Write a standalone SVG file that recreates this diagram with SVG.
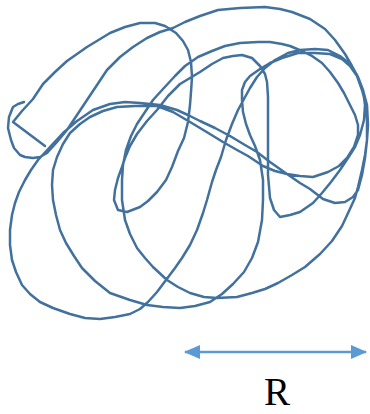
<svg xmlns="http://www.w3.org/2000/svg" width="370" height="414" viewBox="0 0 370 414">
<style>
.coil{fill:none;stroke:#41719C;stroke-width:2.5;stroke-linejoin:round;stroke-linecap:round}
.arr{stroke:#5B9BD5;stroke-width:2.6}
.lbl{font-family:"Liberation Serif","Times New Roman",serif;font-size:39px;fill:#000}
</style>
<defs>
<marker id="ah" viewBox="0 0 16 14" refX="15" refY="7" markerWidth="16" markerHeight="14" markerUnits="userSpaceOnUse" orient="auto-start-reverse">
<path d="M0,0 L16,7 L0,14 z" fill="#5B9BD5"/>
</marker>
</defs>
<path class="coil" d="M45,146 L13,122 L22,111 L33,99 L43,84 L55,72 L67,61 L87,47 L110,33 L125,27 L140,23 L155,23 L165,26 L176,33 L183,41 L188,50 L191,62 L192,77 L191,92 L190,105 L188,122 L184,138 L178,151 L172,167 L166,180 L157,192 L148,201 L140,207 L127,212 L118,210 L114,200 L115,190 L118,178 L122,167 L125,158 L130,146 L137,134 L147,121 L157,110 L168,96 L180,84 L190,78 L200,72 L212,64 L223,58 L233,56 L242,55 L252,58 L260,66 L265,74 L267,82 L268,97 L268,115 L268,140 L268,160 L268,175 L270,198 L274,210 L280,217 L290,215 L300,212 L313,203 L322,193 L331,182 L340,170 L348,158 L355,147 L360,135 L364,120 L365,105 L363,90 L357,75 L350,64 L340,56 L328,50 L315,49 L300,50 L288,53 L275,60 L265,68 L257,77 L250,88 L244,99 L238,110 L232,124 L226,140 L221,157 L216,170 L212,182 L207,200 L203,213 L197,230 L190,245 L182,258 L175,268 L166,280 L157,292 L148,302 L140,309 L130,314 L115,317 L100,319 L85,318 L70,314 L53,308 L40,302 L30,294 L22,285 L16,272 L12,260 L10,245 L10,230 L12,215 L15,203 L19,192 L25,180 L31,170 L38,160 L50,147 L63,133 L77,121 L93,110 L110,104 L125,102 L140,103 L160,105 L177,110 L190,116 L200,121 L215,128 L230,136 L245,145 L257,152 L270,162 L287,174 L300,183 L310,189 L323,199 L335,203 L345,202 L353,197 L358,190 L362,175 L365,158 L367,140 L367,120 L366,105 L362,90 L357,76 L350,66 L342,59 L330,54 L315,53 L298,53 L282,58 L270,63 L260,69 L250,76 L245,82 L242,90 L242,100 L243,112 L246,124 L250,135 L255,146 L260,160 L263,180 L263,200 L262,220 L258,242 L252,258 L244,272 L233,284 L222,294 L210,302 L195,306 L180,308 L163,307 L147,305 L130,300 L110,293 L95,281 L82,268 L74,256 L66,243 L60,230 L56,215 L53,200 L52,185 L53,170 L57,157 L63,144 L70,133 L80,124 L90,117 L103,111 L117,107 L135,106 L157,106 L173,112 L190,122 L205,131 L223,142 L237,150 L248,156 L263,166 L275,171 L287,174 L300,176 L313,177 L328,172 L339,166 L347,158 L354,147 L358,135 L358,125 L355,115 L350,105 L344,93 L338,83 L330,72 L322,63 L312,56 L302,51 L290,46 L282,44 L270,42 L258,42 L240,43 L225,46 L212,51 L198,57 L185,66 L175,76 L163,89 L153,100 L145,112 L137,124 L131,136 L126,150 L123,165 L122,180 L122,200 L125,220 L130,234 L137,248 L145,258 L153,267 L167,280 L178,287 L190,293 L204,297 L217,298 L237,297 L252,293 L265,289 L278,283 L292,275 L305,267 L320,254 L332,241 L342,226 L349,211 L355,198 L358,187 L362,170 L365,155 L367,140 L368,125 L367,105 L363,90 L358,77 L352,66 L345,54 L335,40 L325,29 L310,19 L292,12 L280,9 L265,7 L240,8 L218,10 L200,16 L185,22 L173,28 L160,32 L147,38 L133,47 L120,57 L107,70 L97,85 L87,100 L77,115 L67,130 L57,142 L47,153 L40,157 L33,158 L25,157 L20,155 L14,148 L11,140 L8,128 L9,117 L13,107 L18,104 L24,102"/>
<line class="arr" x1="185" y1="352" x2="366" y2="352" marker-start="url(#ah)" marker-end="url(#ah)"/>
<text class="lbl" x="277" y="405" text-anchor="middle">R</text>
</svg>
